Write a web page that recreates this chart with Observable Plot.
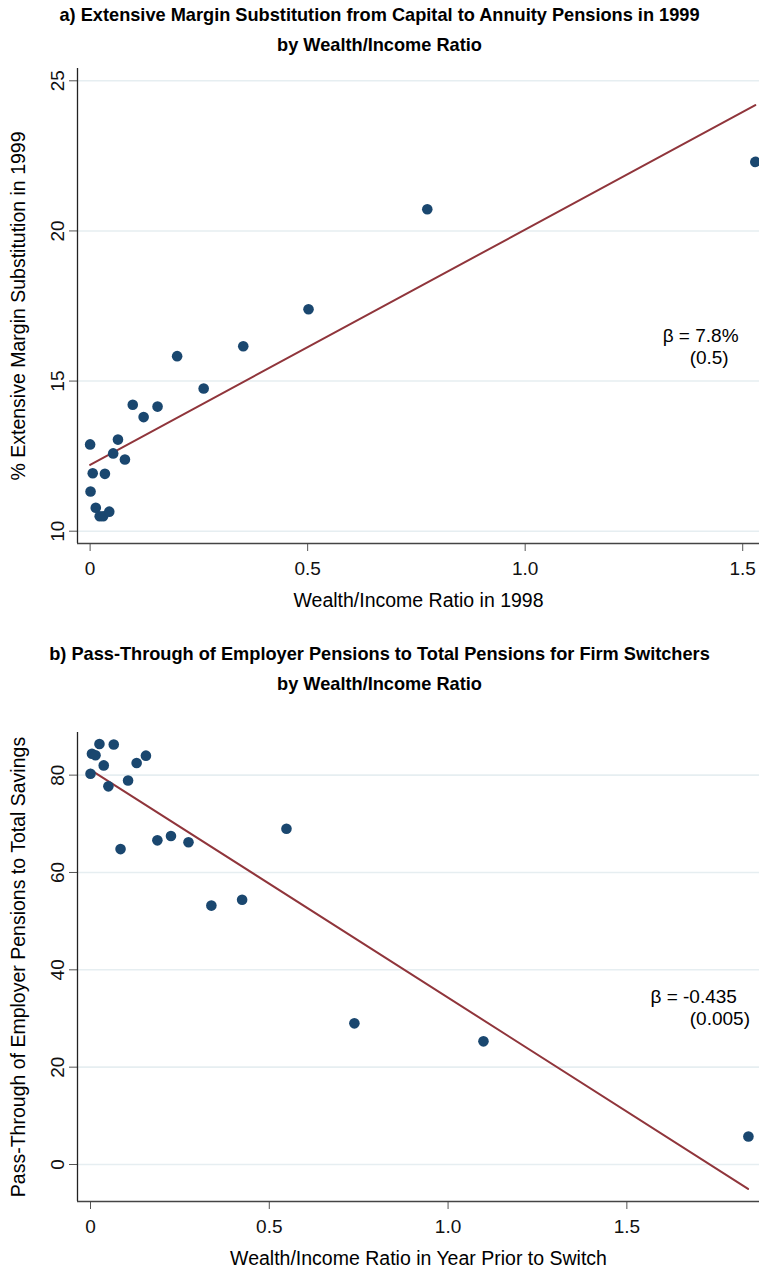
<!DOCTYPE html>
<html>
<head>
<meta charset="utf-8">
<script src="https://cdn.jsdelivr.net/npm/d3@7"></script>
<script src="https://cdn.jsdelivr.net/npm/@observablehq/plot@0.6"></script>
<style>
  body { margin: 0; background: #fff; font-family: "Liberation Sans", Arial, Helvetica, sans-serif; }
  #page { position: relative; width: 759px; height: 1271px; overflow: hidden; }
  .title { position: absolute; left: 0; width: 759px; text-align: center; font-weight: bold; font-size: 18.2px; line-height: 30px; color: #000; }
  .chart { position: absolute; left: 0; }
</style>
</head>
<body>
<div id="page">
  <div class="title" style="top:0px">a) Extensive Margin Substitution from Capital to Annuity Pensions in 1999<br>by Wealth/Income Ratio</div>
  <div class="chart" id="chartA" style="top:60px"></div>
  <div class="title" style="top:639px">b) Pass-Through of Employer Pensions to Total Pensions for Firm Switchers<br>by Wealth/Income Ratio</div>
  <div class="chart" id="chartB" style="top:700px"></div>
</div>
<script>
// panel a: binned scatter, wealth/income ratio in 1998 vs % extensive margin substitution
const wealthA = [0, 0.001, 0.006, 0.013, 0.022, 0.030, 0.034, 0.044, 0.053, 0.064,
                 0.080, 0.098, 0.123, 0.155, 0.200, 0.261, 0.352, 0.502, 0.775, 1.529];
const substA  = [12.89, 11.32, 11.93, 10.78, 10.50, 10.50, 11.91, 10.65, 12.59, 13.05,
                 12.39, 14.21, 13.80, 14.15, 15.83, 14.75, 16.16, 17.39, 20.72, 22.30];
const fitXA = [0, 1.529];
const fitYA = [12.21, 24.19];
const yTicksA = [10, 15, 20, 25];
const xTicksA = [0, 0.5, 1, 1.5];

// panel b: wealth/income ratio in year prior to switch vs pass-through
const wealthB = [0, 0.004, 0.014, 0.025, 0.037, 0.050, 0.065, 0.084, 0.105, 0.129,
                 0.155, 0.187, 0.225, 0.274, 0.338, 0.424, 0.548, 0.738, 1.099, 1.840];
const passB   = [80.3, 84.4, 84.1, 86.4, 82.0, 77.7, 86.3, 64.8, 78.9, 82.5,
                 84.0, 66.6, 67.5, 66.2, 53.2, 54.4, 69.0, 29.0, 25.3, 5.75];
const fitXB = [0, 1.839];
const fitYB = [81.1, -5.0];
const yTicksB = [0, 20, 40, 60, 80];
const xTicksB = [0, 0.5, 1, 1.5];

const font = '"Liberation Sans", Arial, Helvetica, sans-serif';
const navy = "#1a476f";
const maroon = "#90353b";
const gridColor = "#e6eef1";

function panel(cfg) {
  const pts = cfg.x.map((x, i) => ({x, y: cfg.y[i]}));
  const fit = cfg.fitX.map((x, i) => ({x, y: cfg.fitY[i]}));
  return Plot.plot({
    width: 759,
    height: cfg.height,
    marginLeft: 77,
    marginRight: 0,
    marginTop: cfg.marginTop,
    marginBottom: cfg.marginBottom,
    style: {fontFamily: font, background: "#fff", color: "#000"},
    x: {domain: cfg.xDomain},
    y: {domain: cfg.yDomain},
    marks: [
      Plot.gridY(cfg.yTicks, {stroke: gridColor, strokeOpacity: 1, strokeWidth: 1.6}),
      Plot.axisY(cfg.yTicks, {tickSize: 8, tickPadding: 6, tickRotate: -90, fontSize: 19, label: null, stroke: "#555", fill: "#111"}),
      Plot.axisX(cfg.xTicks, {tickSize: 8, tickPadding: 10, fontSize: 19, label: null, stroke: "#555", fill: "#111",
        tickFormat: d => d === 0 ? "0" : d3.format(".1f")(d)}),
      Plot.ruleX([cfg.xDomain[0]], {stroke: "#222", strokeWidth: 1.3}),
      Plot.ruleY([cfg.yDomain[0]], {stroke: "#444", strokeWidth: 1.3}),
      Plot.line(fit, {x: "x", y: "y", stroke: maroon, strokeWidth: 2}),
      Plot.dot(pts, {x: "x", y: "y", r: 5.3, fill: navy, stroke: "none"}),
      Plot.text(cfg.notes, {x: "x", y: "y", text: "t", textAnchor: "start", lineAnchor: "middle", fontSize: 19, fill: "#000"}),
      Plot.text([cfg.xLabel], {text: d => d, frameAnchor: "bottom", dy: 50, lineAnchor: "top", textAnchor: "middle", fontSize: 19.5, fill: "#000"}),
      Plot.text([cfg.yLabel], {text: d => d, frameAnchor: "left", dx: -66, rotate: -90, lineAnchor: "top", textAnchor: "middle", fontSize: 19.5, fill: "#000"})
    ]
  });
}

const chartA = panel({
  x: wealthA, y: substA, fitX: fitXA, fitY: fitYA,
  yTicks: yTicksA, xTicks: xTicksA,
  xDomain: [-0.029, 1.5386], yDomain: [9.59, 25.41],
  height: 560, marginTop: 8, marginBottom: 77,
  xLabel: "Wealth/Income Ratio in 1998",
  yLabel: "% Extensive Margin Substitution in 1999",
  notes: [{x: 1.316, y: 16.49, t: "β = 7.8%"}, {x: 1.378, y: 15.76, t: "(0.5)"}]
});

const chartB = panel({
  x: wealthB, y: passB, fitX: fitXB, fitY: fitYB,
  yTicks: yTicksB, xTicks: xTicksB,
  xDomain: [-0.0364, 1.871], yDomain: [-7.6, 88.76],
  height: 571, marginTop: 32, marginBottom: 70,
  xLabel: "Wealth/Income Ratio in Year Prior to Switch",
  yLabel: "Pass-Through of Employer Pensions to Total Savings",
  notes: [{x: 1.566, y: 34.5, t: "β = -0.435"}, {x: 1.676, y: 30.0, t: "(0.005)"}]
});

d3.select("#chartA").append(() => chartA);
d3.select("#chartB").append(() => chartB);
</script>
</body>
</html>
